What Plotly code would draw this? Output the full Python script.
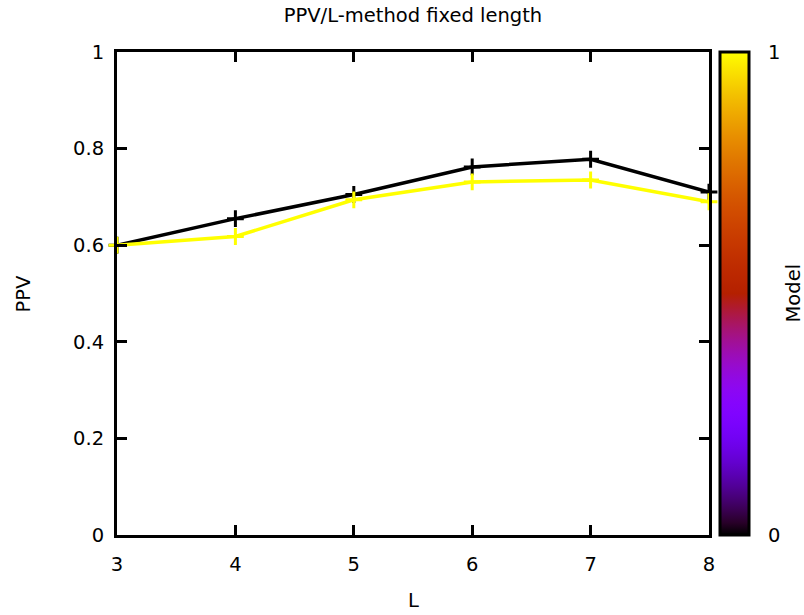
import numpy as np
import plotly.graph_objects as go

L = [3, 4, 5, 6, 7, 8]
ppv_model0 = [0.600, 0.655, 0.705, 0.762, 0.778, 0.710]
ppv_model1 = [0.600, 0.618, 0.694, 0.731, 0.735, 0.690]
model_values = [0, 1]

# gnuplot default pm3d palette (rgbformulae 7,5,15)
def pal(v):
    r = np.sqrt(v)
    g = v ** 3
    b = max(0.0, np.sin(2 * np.pi * v))
    return "rgb(%d,%d,%d)" % (round(r * 255), round(g * 255), round(b * 255))

colorscale = [[v, pal(v)] for v in np.linspace(0, 1, 41)]

FONT = "DejaVu Sans"
FS = 19.5
fig = go.Figure()

for vals, m in [(ppv_model0, model_values[0]), (ppv_model1, model_values[1])]:
    fig.add_trace(go.Scatter(
        x=L, y=vals, mode="lines+markers",
        line=dict(color=pal(m), width=3.5),
        marker=dict(symbol="cross-thin", size=12, color=pal(m),
                    line=dict(color=pal(m), width=3)),
        cliponaxis=False, showlegend=False, hoverinfo="skip"))

fig.add_trace(go.Scatter(
    x=[None], y=[None], mode="markers", showlegend=False, hoverinfo="skip",
    marker=dict(color=[0], cmin=0, cmax=1, colorscale=colorscale, showscale=True,
                colorbar=dict(
                    x=(720 - 117) / 592, xref="paper", xanchor="left", xpad=0,
                    y=0.5, yanchor="middle", len=1, lenmode="fraction", ypad=0,
                    thickness=29, outlinewidth=3, outlinecolor="black",
                    tickvals=[0, 1], ticktext=["0", "1"],
                    ticks="outside", ticklen=14, tickcolor="rgba(0,0,0,0)",
                    tickfont=dict(family=FONT, size=FS, color="black"),
                    title=dict(text=""))))
)

axis_common = dict(showline=True, linecolor="black", linewidth=3, mirror="ticks",
                   ticks="inside", ticklen=10, tickwidth=3, tickcolor="black",
                   showgrid=False, zeroline=False,
                   tickfont=dict(family=FONT, size=FS, color="black"))

fig.update_layout(
    width=804, height=615,
    margin=dict(l=117, r=95, t=52, b=80),
    paper_bgcolor="white", plot_bgcolor="white",
    title=dict(text="PPV/L-method fixed length", x=0.5, xref="paper",
               y=1 - 15 / 615, yref="container", yanchor="middle",
               font=dict(family=FONT, size=FS, color="black")),
    xaxis=dict(range=[3, 8], tickvals=L, ticklabelstandoff=10, **axis_common),
    yaxis=dict(range=[0, 1], tickvals=[0, 0.2, 0.4, 0.6, 0.8, 1],
               ticktext=["0", "0.2", "0.4", "0.6", "0.8", "1"],
               ticklabelstandoff=6, **axis_common),
    annotations=[
        dict(text="Model", textangle=-90, xref="paper", yref="paper",
             x=(793 - 117) / 592, y=0.5, xanchor="center", yanchor="middle",
             showarrow=False, font=dict(family=FONT, size=FS, color="black")),
        dict(text="PPV", textangle=-90, xref="paper", yref="paper",
             x=(23 - 117) / 592, y=0.5, xanchor="center", yanchor="middle",
             showarrow=False, font=dict(family=FONT, size=FS, color="black")),
        dict(text="L", xref="paper", yref="paper",
             x=0.5, y=(535 - 600) / 483, xanchor="center", yanchor="middle",
             showarrow=False, font=dict(family=FONT, size=FS, color="black")),
    ],
)

fig.write_html("out.html")
